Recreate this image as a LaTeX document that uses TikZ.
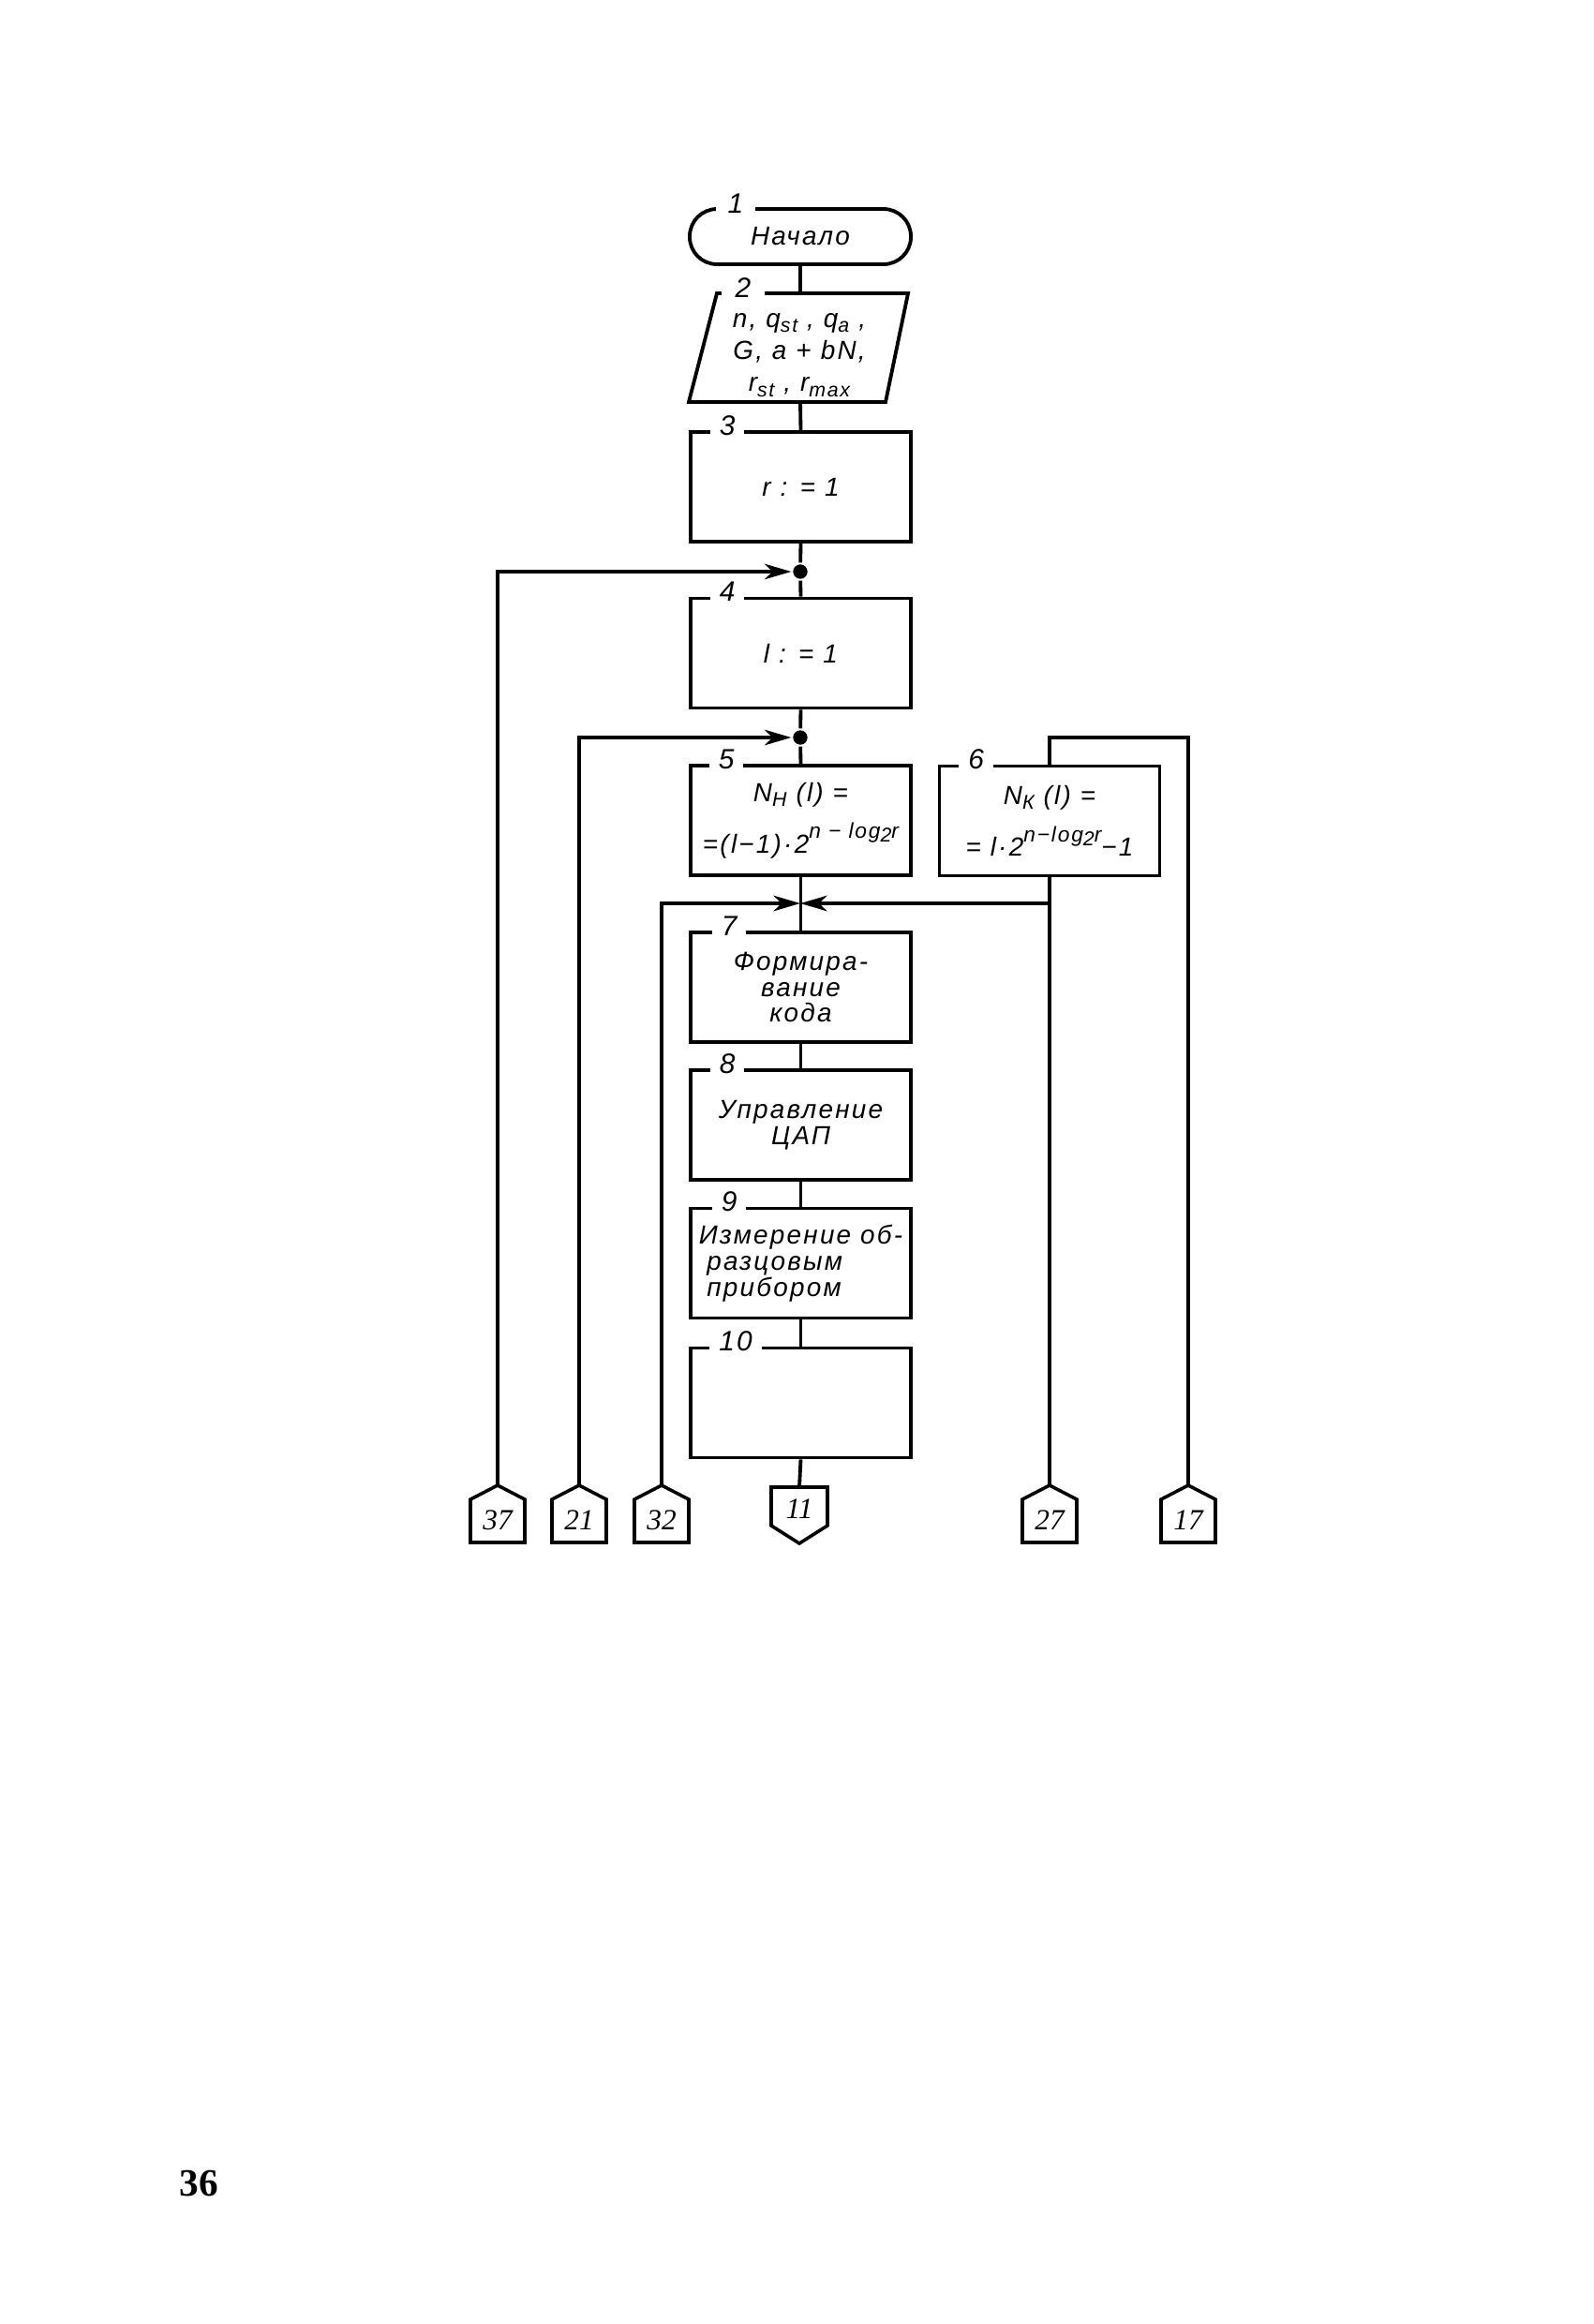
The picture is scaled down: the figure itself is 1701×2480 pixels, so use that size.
\documentclass[tikz,border=0pt]{standalone}
\usepackage{fontspec}
\setmainfont{Liberation Sans}
\newfontfamily\gost[LetterSpace=8]{Liberation Sans}
\newfontfamily\connfont{Liberation Serif}
\newfontfamily\pagenumfont{Liberation Serif}
\usetikzlibrary{arrows.meta,calc}
\newcommand\sbs[1]{\raisebox{-0.35ex}{\fontsize{7.5}{7.5}\selectfont #1}}
\newcommand\sps[1]{\raisebox{1.05ex}{\fontsize{8}{8}\selectfont #1}}
\newcommand\offconn[4]{%
  \coordinate (#1) at (#2,#3);
  \draw[conn] (#1) -- ++(29,15) -- ++(0,46) -- ++(-58,0) -- ++(0,-46) -- cycle;
  \node[connlbl] (#1l) at ($(#1)+(0,37)$) {#4};}
\begin{document}
\begin{tikzpicture}[x=0.012346cm, y=-0.012346cm, line width=1.35pt,
  txt/.style={font=\gost\itshape\fontsize{9.8}{9.8}\selectfont, align=center, inner sep=0pt},
  blk/.style={txt, draw, minimum width=2.901cm, minimum height=1.444cm},
  num/.style={fill=white, inner xsep=3.5pt, inner ysep=0.5pt, font=\gost\itshape\fontsize{10.5}{10.5}\selectfont},
  conn/.style={line width=1.25pt, line join=miter},
  connlbl/.style={font=\connfont\itshape\fontsize{11}{11}\selectfont, inner sep=0pt},
  dot/.style={circle, fill, inner sep=0pt, minimum size=5.4pt},
  arr/.style={-{Stealth[length=10pt,width=5.8pt,inset=3pt]}}]
\useasboundingbox (0,0) rectangle (1701,2480);

% block 1: terminal
\node[blk, rounded corners=0.36cm, minimum height=0.728cm, minimum width=2.914cm] (b1) at (854,252.5) {Начало};
\node[num, inner xsep=4.5pt] (n1) at (785,217) {1};

% block 2: input parallelogram
\draw (765,313) -- (969,313) -- (945,429) -- (735,429) -- cycle;
\node[txt] (b2) at (853,379) {n, q\sbs{st} , q\sbs{a} ,\\[2.2pt] G, a + bN,\\[2.2pt] r\sbs{st} , r\sbs{max}};
\coordinate (b2t) at (854,313);
\coordinate (b2b) at (854,429);
\node[num, inner xsep=5pt] (n2) at (793,307) {2};

% blocks 3..10
\node[blk] (b3) at (854.5,519.5) {r : = 1};
\node[blk] (b4) at (854.5,697) {l : = 1};
\node[blk] (b5) at (854.5,875.5) {N\sbs{Н} (l) =\\[5pt] =(l−1)·2\sps{n − log\sbs{2}r}};
\node[blk] (b6) at (1120,876) {N\sbs{К} (l) =\\[5pt] = l·2\sps{n−log\sbs{2}r}−1};
\node[blk] (b7) at (854.5,1053.5) {Формира-\\[-0.3pt]вание\\[-0.3pt]кода};
\node[blk] (b8) at (854.5,1200.5) {Управление\\ЦАП};
\node[blk, align=left] (b9) at (854.5,1348) {Измерение об-\\\hspace*{3pt}разцовым\\\hspace*{3pt}прибором};
\node[blk] (b10) at (854.5,1497) {};

\foreach \b/\t/\dx in {b3/3/41, b4/4/41, b5/5/40, b6/6/41, b7/7/43, b8/8/41, b9/9/43, b10/10/50}
  \node[num] (n\t) at ($(\b.north west)+(\dx,-5)$) {\t};

% junctions
\node[dot] (d1) at (854,610) {};
\node[dot] (d2) at (854,787) {};
\coordinate (j7) at (854,964);

% off-page connectors
\offconn{c37}{531}{1585}{37}
\offconn{c21}{618}{1585}{21}
\offconn{c32}{706}{1585}{32}
\offconn{c27}{1120}{1585}{27}
\offconn{c17}{1268}{1585}{17}
\coordinate (c11) at (853,1587);
\draw[conn] ($(c11)+(-30,0)$) -- ($(c11)+(30,0)$) -- ++(0,41) -- ($(c11)+(0,60)$) -- ($(c11)+(-30,41)$) -- cycle;
\node[connlbl] (c11l) at ($(c11)+(0,23)$) {11};

% main flow
\draw (b1.south) -- (b2t);
\draw (b2b) -- (b3.north);
\draw (b3.south) -- (d1) -- (b4.north);
\draw (b4.south) -- (d2) -- (b5.north);
\draw (b5.south) -- (b7.north);
\draw (b7.south) -- (b8.north);
\draw (b8.south) -- (b9.north);
\draw (b9.south) -- (b10.north);
\draw (b10.south) -- (c11);

% loops
\draw[arr] (c37) |- (d1);
\draw[arr] (c21) |- (d2);
\draw[arr] (c32) |- (j7);
\draw (b6.south) -- (c27);
\draw[arr] (b6.south |- j7) -- (j7);
\draw (c17) |- (b6.north |- d2) -- (b6.north);

% page number
\node[font=\pagenumfont\bfseries\fontsize{14.5}{14.5}\selectfont, inner sep=0pt] (pg) at (212,2330) {36};
\end{tikzpicture}
\end{document}
